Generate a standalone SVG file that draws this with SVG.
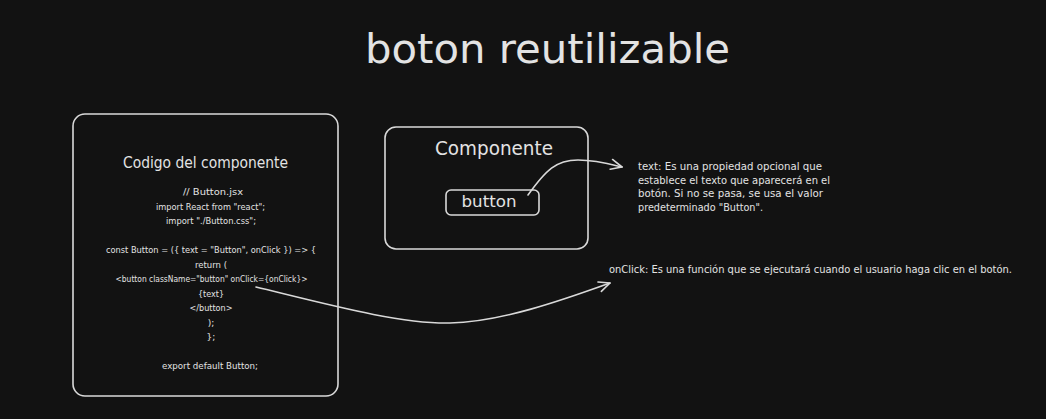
<svg xmlns="http://www.w3.org/2000/svg" width="1046" height="419" viewBox="0 0 1046 419">
  <style>
    .bg { fill: #121212; }
    .box { fill: none; stroke: #d9d9d9; stroke-width: 1.6; }
    .t { font-family: "DejaVu Sans", "Liberation Sans", sans-serif; fill: #e3e3e3; }
    .title { font-size: 40px; }
    .h { font-size: 16px; }
    .code { font-size: 9px; }
    .note { font-size: 10.5px; }
    .conn { fill: none; stroke: #d9d9d9; stroke-width: 1.6; stroke-linecap: round; }
  </style>
  <defs>
    <marker id="arrow" viewBox="0 0 14 14" refX="12" refY="7" markerWidth="14" markerHeight="14" markerUnits="userSpaceOnUse" orient="auto">
      <path d="M1,2 L12,7 L1,12" fill="none" stroke="#d9d9d9" stroke-width="1.6" stroke-linecap="round" stroke-linejoin="round"/>
    </marker>
  </defs>
  <rect class="bg" x="0" y="0" width="1046" height="419"/>

  <g id="title">
    <text class="t title" x="547.5" y="63" text-anchor="middle" textLength="365" lengthAdjust="spacingAndGlyphs">boton reutilizable</text>
  </g>

  <g id="codigo">
    <rect class="box" x="73" y="114" width="265" height="282" rx="12"/>
    <text class="t h" x="205.5" y="168" text-anchor="middle" textLength="165" lengthAdjust="spacingAndGlyphs">Codigo del componente</text>
    <text class="t code" x="213" y="195" text-anchor="middle" textLength="60" lengthAdjust="spacingAndGlyphs">// Button.jsx</text>
    <text class="t code" x="210.5" y="209.5" text-anchor="middle" textLength="109" lengthAdjust="spacingAndGlyphs">import React from "react";</text>
    <text class="t code" x="211" y="224" text-anchor="middle" textLength="90" lengthAdjust="spacingAndGlyphs">import "./Button.css";</text>
    <text class="t code" x="211" y="253" text-anchor="middle" textLength="210" lengthAdjust="spacingAndGlyphs">const Button = ({ text = "Button", onClick }) =&gt; {</text>
    <text class="t code" x="211" y="267.5" text-anchor="middle" textLength="32" lengthAdjust="spacingAndGlyphs">return (</text>
    <text class="t code" x="211.5" y="282" text-anchor="middle" textLength="192" lengthAdjust="spacingAndGlyphs">&lt;button className="button" onClick={onClick}&gt;</text>
    <text class="t code" x="211" y="296.5" text-anchor="middle" textLength="26" lengthAdjust="spacingAndGlyphs">{text}</text>
    <text class="t code" x="211" y="311" text-anchor="middle" textLength="43" lengthAdjust="spacingAndGlyphs">&lt;/button&gt;</text>
    <text class="t code" x="211" y="325.5" text-anchor="middle">);</text>
    <text class="t code" x="211" y="340" text-anchor="middle">};</text>
    <text class="t code" x="210" y="369" text-anchor="middle" textLength="96" lengthAdjust="spacingAndGlyphs">export default Button;</text>
  </g>

  <g id="componente">
    <rect class="box" x="385" y="127" width="203" height="122" rx="11"/>
    <text class="t" x="494" y="155" font-size="20" text-anchor="middle" textLength="118" lengthAdjust="spacingAndGlyphs">Componente</text>
  </g>

  <g id="button">
    <rect class="box" x="446" y="190" width="93" height="25" rx="5"/>
    <text class="t" x="489" y="207" font-size="16" text-anchor="middle" textLength="55" lengthAdjust="spacingAndGlyphs">button</text>
  </g>

  <g id="text-note">
    <text class="t note" x="638" y="170" textLength="184" lengthAdjust="spacingAndGlyphs">text: Es una propiedad opcional que</text>
    <text class="t note" x="638" y="183.5" textLength="192" lengthAdjust="spacingAndGlyphs">establece el texto que aparecerá en el</text>
    <text class="t note" x="638" y="197" textLength="185" lengthAdjust="spacingAndGlyphs">botón. Si no se pasa, se usa el valor</text>
    <text class="t note" x="638" y="210.5" textLength="125" lengthAdjust="spacingAndGlyphs">predeterminado "Button".</text>
  </g>

  <g id="onclick-note">
    <text class="t note" x="609" y="273" textLength="403" lengthAdjust="spacingAndGlyphs">onClick: Es una función que se ejecutará cuando el usuario haga clic en el botón.</text>
  </g>

  <g id="connectors">
    <path class="conn" d="M528,195 C546,170 556,160 578,160 C596,160 610,164 622,167" marker-end="url(#arrow)"/>
    <path class="conn" d="M256,287 C330,305 400,324 450,323 C500,322 560,301 610,283" marker-end="url(#arrow)"/>
  </g>
</svg>
